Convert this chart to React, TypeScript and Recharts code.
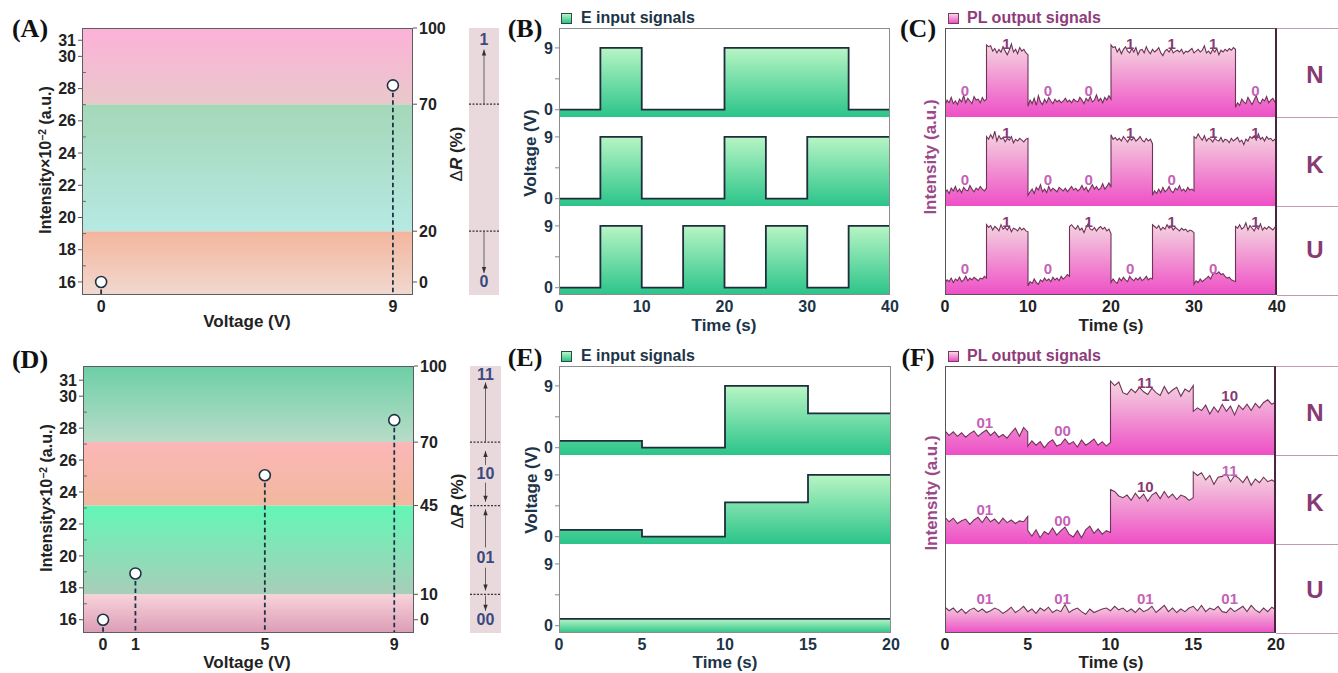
import React from "react";
import {
  ComposedChart,
  Area,
  Scatter,
  XAxis,
  YAxis,
  ReferenceArea,
  ReferenceLine,
} from "recharts";

// ---------- data ----------

// (A) single bit: intensity vs voltage
const A_VOLTAGES = [0, 9];
const A_INTENSITY = [16.0, 28.2];
const INTENSITY_TICKS = [16, 18, 20, 22, 24, 26, 28, 30, 31];
const INTENSITY_MINOR = [17, 19, 21, 23, 25, 27, 29];
const A_DR_TICKS = [0, 20, 70, 100];
const A_DR_THRESHOLDS = [20, 70];
const A_CODES = ["0", "1"];
const A_CODE_POS = [0, 95.5];
const A_ARROWS: [number, number][] = [
  [20, 3.5],
  [70, 91.5],
];

// (D) two bits
const D_VOLTAGES = [0, 1, 5, 9];
const D_INTENSITY = [16.0, 18.9, 25.05, 28.5];
const D_DR_TICKS = [0, 10, 45, 70, 100];
const D_DR_THRESHOLDS = [10, 45, 70];
const D_CODES = ["00", "01", "10", "11"];
const D_CODE_POS = [0, 24.5, 57.5, 96.5];
const D_ARROWS: [number, number][] = [
  [70, 93.5],
  [61, 66.5],
  [54, 46.5],
  [28.5, 43.5],
  [20.5, 11.5],
  [9.5, 3.5],
];

// (B) E input, 5 s per slot
const B_TIME_TICKS = [0, 10, 20, 30, 40];
const B_N = [0, 9, 0, 0, 9, 9, 9, 0];
const B_K = [0, 9, 0, 0, 9, 0, 9, 9];
const B_U = [0, 9, 0, 9, 0, 9, 0, 9];

// (E) E input, 5 s per slot
const E_TIME_TICKS = [0, 5, 10, 15, 20];
const E_N = [1, 0, 9, 5];
const E_K = [1, 0, 5, 9];
const E_U = [1, 1, 1, 1];
const VOLT_TICKS = [0, 4.5, 9];

// (C) PL output, runs of [start, end, samples]
type Run = [number, number, number[]];
const C_N_RUNS: Run[] = [
  [0, 5, [1.3, 1.9, 1.6, 2.2, 1.5, 1.8, 1.4, 2.0, 1.7, 2.4, 1.6, 2.1, 1.8, 1.5, 2.3, 1.9, 2.0, 1.6, 2.2, 1.8, 2.0]],
  [5, 10, [8.1, 7.9, 8.0, 7.4, 7.7, 7.2, 7.6, 7.3, 7.9, 7.4, 7.0, 7.5, 8.2, 7.3, 7.6, 7.1, 7.8, 7.4, 7.6, 7.2, 7.0]],
  [10, 20, [
    1.2, 1.9, 1.5, 2.1, 1.3, 2.4, 1.7, 1.4, 2.0, 1.6, 2.2, 1.8, 1.5, 2.0, 1.7, 1.9, 1.6, 1.8, 2.1, 1.7,
    1.9, 1.6, 2.0, 1.8, 1.7, 2.2, 1.9, 1.5, 2.1, 1.8, 2.3, 1.7, 1.9, 2.5, 1.8, 2.1, 1.6, 2.2, 1.9, 2.4, 2.0,
  ]],
  [20, 35, [
    8.1, 7.8, 7.9, 7.3, 7.7, 7.1, 7.6, 7.9, 7.4, 7.2, 7.7, 7.3, 7.8, 7.0, 7.5, 7.6, 7.2, 7.9, 7.4, 7.1,
    7.6, 7.3, 7.5, 7.8, 7.2, 6.9, 7.4, 7.6, 7.3, 7.7, 7.2, 7.4, 7.5, 7.3, 7.6, 7.1, 7.4, 7.3, 7.5, 7.7,
    7.2, 7.4, 7.6, 7.3, 7.5, 8.0, 7.2, 7.4, 7.1, 7.6, 7.3, 7.7, 7.0, 7.5, 7.3, 7.6, 7.4, 7.7, 7.5, 7.8, 7.6,
  ]],
  [35, 40, [1.1, 1.6, 1.3, 2.0, 1.7, 1.5, 2.2, 1.8, 1.4, 1.9, 2.4, 1.7, 1.5, 2.0, 1.8, 2.3, 1.6, 1.9, 2.1, 1.7, 1.4]],
];
const C_K_RUNS: Run[] = [
  [0, 5, [1.5, 1.8, 1.4, 2.0, 1.7, 2.2, 1.6, 1.9, 1.5, 2.1, 1.8, 1.7, 2.3, 1.9, 1.6, 2.0, 1.8, 2.2, 1.9, 1.7, 2.0]],
  [5, 10, [7.8, 7.5, 8.0, 7.6, 8.4, 7.3, 7.9, 7.5, 7.7, 7.2, 7.6, 7.4, 7.8, 7.1, 7.5, 7.3, 7.6, 7.4, 7.2, 7.5, 7.6]],
  [10, 20, [
    1.2, 1.6, 1.9, 1.4, 2.1, 1.8, 2.4, 1.6, 1.9, 1.5, 2.2, 1.7, 2.0, 1.8, 1.6, 2.1, 1.9, 1.7, 2.0, 1.6,
    1.9, 2.2, 1.8, 2.0, 1.7, 1.9, 2.3, 1.8, 2.1, 1.6, 2.0, 2.4, 1.9, 2.2, 1.8, 2.0, 2.5, 1.9, 2.2, 2.6, 2.1,
  ]],
  [20, 25, [8.0, 7.5, 7.7, 7.4, 7.6, 7.3, 7.8, 7.5, 7.2, 7.6, 7.4, 7.7, 7.3, 7.5, 7.8, 7.4, 7.2, 7.6, 7.3, 7.5, 7.0]],
  [25, 30, [1.2, 1.7, 1.4, 1.9, 1.5, 2.1, 1.6, 1.8, 2.2, 1.7, 1.5, 2.0, 1.8, 2.3, 1.7, 1.9, 1.6, 2.1, 1.8, 1.9, 1.7]],
  [30, 40, [
    7.8, 7.6, 8.1, 7.7, 7.4, 7.9, 7.3, 7.6, 7.5, 7.2, 7.6, 7.4, 7.3, 7.7, 7.2, 7.5, 7.4, 7.1, 7.6, 7.3,
    7.5, 7.7, 7.2, 7.4, 6.9, 7.5, 7.3, 7.8, 7.6, 7.9, 7.4, 8.1, 7.5, 7.7, 7.3, 7.8, 7.5, 7.6, 7.3, 7.5, 7.7,
  ]],
];
const C_U_RUNS: Run[] = [
  [0, 5, [1.3, 1.7, 1.5, 1.9, 1.4, 1.8, 1.6, 2.0, 1.5, 1.7, 2.1, 1.6, 1.9, 1.7, 2.0, 1.8, 1.6, 1.9, 1.8, 2.1, 1.9]],
  [5, 10, [7.9, 7.6, 7.8, 7.3, 7.7, 7.5, 7.2, 7.9, 7.4, 7.6, 7.3, 7.7, 7.1, 7.5, 7.4, 7.2, 7.6, 7.3, 7.5, 7.2, 7.1]],
  [10, 15, [1.0, 1.5, 1.3, 1.8, 1.4, 1.2, 1.7, 1.5, 1.9, 1.6, 1.8, 1.5, 2.0, 1.7, 1.9, 1.6, 2.1, 1.8, 2.0, 2.3, 2.1]],
  [15, 20, [7.7, 7.9, 7.6, 7.4, 7.8, 7.3, 7.5, 7.0, 7.6, 8.0, 7.4, 7.3, 7.6, 7.2, 7.5, 7.7, 7.4, 7.6, 7.2, 7.4, 6.9]],
  [20, 25, [1.4, 1.8, 1.5, 1.3, 1.9, 1.6, 2.0, 1.7, 1.5, 2.1, 1.8, 1.6, 1.9, 1.7, 2.0, 1.6, 1.8, 2.1, 1.7, 1.9, 1.8]],
  [25, 30, [7.9, 7.7, 7.5, 7.8, 7.3, 7.6, 7.4, 7.9, 7.5, 7.7, 7.3, 7.6, 7.4, 7.2, 7.5, 7.3, 7.4, 7.1, 7.3, 7.2, 7.0]],
  [30, 35, [1.2, 1.6, 1.4, 1.8, 1.5, 1.7, 1.9, 2.1, 1.8, 2.3, 2.5, 2.4, 2.6, 2.3, 2.4, 2.1, 1.9, 2.0, 1.7, 1.6, 1.5]],
  [35, 40, [7.7, 7.5, 7.9, 7.4, 7.6, 8.1, 7.3, 7.8, 7.5, 7.2, 7.7, 7.4, 8.0, 7.3, 7.6, 7.4, 7.7, 7.5, 7.3, 7.6, 7.4]],
];
const C_LABEL_T = [2.4, 7.4, 12.4, 17.3, 22.3, 27.3, 32.3, 37.4];
const C_LABEL_Y = { "0": 3.0, "1": 8.3 };

// (F) PL output
const F_N_RUNS: Run[] = [
  [0, 5, [2.7, 2.2, 2.6, 2.1, 2.5, 2.0, 2.4, 2.7, 2.1, 2.5, 2.8, 2.2, 2.6, 2.0, 2.3, 1.9, 2.5, 3.0, 2.1, 3.1, 2.6]],
  [5, 10, [1.0, 1.6, 1.1, 1.5, 0.8, 1.4, 1.7, 1.0, 1.2, 1.8, 1.2, 1.5, 0.9, 1.7, 1.1, 1.4, 1.8, 1.1, 1.5, 1.0, 1.4]],
  [10, 15, [8.3, 7.8, 8.2, 7.0, 6.8, 7.4, 7.0, 7.6, 7.1, 6.8, 7.5, 7.0, 6.7, 7.7, 6.9, 7.3, 7.6, 6.6, 7.4, 7.1, 7.8]],
  [15, 20, [4.9, 5.3, 5.0, 5.6, 4.6, 5.4, 4.8, 5.7, 4.9, 5.5, 4.5, 5.6, 5.1, 5.7, 5.0, 5.8, 5.3, 5.9, 6.2, 5.7, 6.0]],
];
const F_K_RUNS: Run[] = [
  [0, 5, [3.0, 2.5, 2.9, 2.3, 2.6, 2.8, 2.2, 2.7, 3.0, 2.4, 3.1, 2.5, 2.8, 2.3, 2.9, 2.4, 2.7, 2.3, 2.6, 2.5, 3.1]],
  [5, 10, [1.5, 0.9, 1.6, 0.7, 1.4, 1.1, 1.8, 1.0, 1.5, 1.9, 1.1, 0.8, 1.5, 0.7, 1.6, 2.0, 1.2, 1.7, 1.1, 1.5, 1.3]],
  [10, 15, [6.1, 5.9, 5.4, 5.2, 5.5, 4.9, 5.7, 5.1, 5.6, 4.8, 5.5, 5.8, 5.1, 5.9, 5.2, 5.6, 5.0, 5.5, 5.3, 4.9, 5.2]],
  [15, 20, [8.1, 7.7, 8.0, 7.2, 7.7, 6.7, 7.5, 7.6, 7.9, 7.0, 7.7, 7.4, 6.9, 7.6, 6.6, 7.3, 6.9, 7.5, 7.0, 7.2, 6.9]],
];
const F_U_RUNS: Run[] = [
  [0, 20, [
    2.9, 2.5, 2.8, 2.3, 2.7, 2.2, 2.6, 2.8, 2.4, 2.7,
    2.3, 2.5, 2.8, 2.6, 2.2, 2.5, 2.9, 2.3, 2.6, 3.0,
    2.4, 2.7, 2.2, 2.8, 2.5, 2.9, 2.3, 2.6, 2.4, 3.2,
    2.3, 2.6, 2.8, 2.4, 2.1, 2.7, 2.3, 2.5, 2.7, 2.8,
    2.5, 3.0, 2.6, 2.8, 2.4, 2.7, 2.3, 2.8, 2.4, 2.6,
    3.0, 2.3, 2.7, 3.1, 2.4, 2.8, 2.3, 2.7, 2.4, 2.8,
    3.0, 2.5, 3.1, 2.4, 2.8, 2.6, 3.0, 2.4, 2.3, 2.8,
    2.4, 2.7, 3.0, 2.4, 3.1, 2.6, 2.3, 2.8, 2.4, 2.9,
    2.6,
  ]],
];
const F_LABEL_T = [2.4, 7.1, 12.1, 17.2];
const F_N_LABEL_Y = [3.7, 2.8, 8.2, 6.7];
const F_K_LABEL_Y = [3.9, 2.6, 6.5, 8.3];
const F_U_LABEL_Y = [3.9, 3.9, 3.9, 3.9];
const F_N_DARK = [false, false, true, true];
const F_K_DARK = [false, false, true, false];
const F_U_DARK = [false, false, false, false];
const VOLT_CODE: Record<number, string> = { 0: "00", 1: "01", 5: "10", 9: "11" };

// ---------- styles ----------
const FONT = '"Liberation Sans", Arial, sans-serif';
const SERIF = '"Liberation Serif", "Times New Roman", serif';
const INK = "#222";
const NAVY = "#1c3448";
const PLUM = "#873a73";
const PLUM_LIGHT = "#c462b8";
const PL_STROKE = "#6e3358";
const STEP_FILL: [string, string] = ["#b7f5c4", "#2bc48a"];
const PL_FILL: [string, string] = ["#f4d6df", "#ee4fc6"];
const A_BAND_FILLS: [string, string][] = [
  ["#f3b59d", "#f1d9cf"],
  ["#a5d7b8", "#b6e9e3"],
  ["#fdb1d8", "#e9c8cb"],
];
const D_BAND_FILLS: [string, string][] = [
  ["#f8d3da", "#dc9cb6"],
  ["#62f7b6", "#a9cdb9"],
  ["#fcb7b7", "#f1b89e"],
  ["#6ccfa6", "#b9dcc9"],
];

const tickStyle = (fill: string) => ({
  fill,
  fontSize: 16,
  fontWeight: 700,
  fontFamily: FONT,
});

type Rect = { x: number; y: number; w: number; h: number };
type Row = { t: number; v: number };

const stepRows = (levels: number[], dt: number): Row[] => [
  ...levels.map((v, i) => ({ t: i * dt, v })),
  { t: levels.length * dt, v: levels[levels.length - 1] },
];

const runRows = (runs: Run[]): Row[] =>
  runs.flatMap(([t0, t1, vals]) =>
    vals.map((v, i) => ({ t: t0 + ((t1 - t0) * i) / (vals.length - 1), v }))
  );

const bitTags = (levels: number[]) =>
  levels.map((v, i) => {
    const bit = v > 0 ? "1" : "0";
    return {
      t: C_LABEL_T[i],
      y: C_LABEL_Y[bit],
      text: bit,
      color: bit === "1" ? PLUM : PLUM_LIGHT,
    };
  });

const codeTags = (levels: number[], ys: number[], dark: boolean[]) =>
  levels.map((v, i) => ({
    t: F_LABEL_T[i],
    y: ys[i],
    text: VOLT_CODE[v],
    color: dark[i] ? PLUM : PLUM_LIGHT,
  }));

// ---------- small pieces ----------
function Txt(props: {
  x: number;
  y: number;
  size?: number;
  color?: string;
  rotate?: number;
  family?: string;
  left?: boolean;
  children: React.ReactNode;
}) {
  const { x, y, size = 17, color = INK, rotate = 0, family = FONT, left } = props;
  return (
    <div
      style={{
        position: "absolute",
        left: x,
        top: y,
        transform: `translate(${left ? "0" : "-50%"}, -50%) rotate(${rotate}deg)`,
        whiteSpace: "nowrap",
        fontSize: size,
        fontWeight: 700,
        fontFamily: family,
        color,
        lineHeight: 1.1,
      }}
    >
      {props.children}
    </div>
  );
}

function Frame({ r, color, width = 1, right }: { r: Rect; color: string; width?: number; right?: string }) {
  return (
    <div
      style={{
        position: "absolute",
        left: r.x,
        top: r.y,
        width: r.w,
        height: r.h,
        boxSizing: "border-box",
        border: `${width}px solid ${color}`,
        borderRight: right ?? `${width}px solid ${color}`,
        pointerEvents: "none",
      }}
    />
  );
}

function Swatch({ x, y, fill, border }: { x: number; y: number; fill: [string, string]; border: string }) {
  return (
    <div
      style={{
        position: "absolute",
        left: x,
        top: y,
        width: 11,
        height: 11,
        boxSizing: "border-box",
        border: `1px solid ${border}`,
        background: `linear-gradient(${fill[0]}, ${fill[1]})`,
      }}
    />
  );
}

const Pin = (props: any) => {
  const { cx, cy, bottom } = props;
  if (cx == null || cy == null) return null;
  return (
    <g>
      <line x1={cx} x2={cx} y1={cy} y2={bottom} stroke="#1e3444" strokeWidth={1.8} strokeDasharray="4.5 3" />
      <circle cx={cx} cy={cy} r={5.5} fill="#fff" stroke="#1e3444" strokeWidth={1.6} />
    </g>
  );
};

const Tag = (props: any) => {
  const { cx, cy, payload } = props;
  if (cx == null || cy == null) return null;
  return (
    <text x={cx} y={cy} textAnchor="middle" dominantBaseline="central" fontSize={15} fontWeight={700} fontFamily={FONT} fill={payload.color}>
      {payload.text}
    </text>
  );
};

const Head = (props: any) => {
  const { cx, cy, payload } = props;
  if (cx == null || cy == null) return null;
  const d = payload.up ? 1 : -1;
  return <path d={`M${cx},${cy} L${cx - 2.2},${cy + 6 * d} L${cx + 2.2},${cy + 6 * d} Z`} fill="#333" />;
};

const CodeText = (props: any) => {
  const { cx, cy, payload } = props;
  if (cx == null || cy == null) return null;
  return (
    <text x={cx} y={cy} textAnchor="middle" dominantBaseline="central" fontSize={16} fontWeight={700} fontFamily={FONT} fill="#3b4a7e">
      {payload.text}
    </text>
  );
};

// ---------- intensity panels (A, D) ----------
const IL = 50,
  IR = 44,
  IT = 12,
  IX = 30;

function IntensityPanel(p: {
  id: string;
  plot: Rect;
  volts: number[];
  intensity: number[];
  xDomain: [number, number];
  yDomain: [number, number];
  rDomain: [number, number];
  rTicks: number[];
  thresholds: number[];
  fills: [string, string][];
}) {
  const W = IL + p.plot.w + IR;
  const H = IT + p.plot.h + IX;
  const edges = [p.rDomain[0], ...p.thresholds, p.rDomain[1]];
  const pts = p.volts.map((x, i) => ({ x, y: p.intensity[i] }));
  const bottom = IT + p.plot.h;
  return (
    <div style={{ position: "absolute", left: p.plot.x - IL, top: p.plot.y - IT }}>
      <ComposedChart width={W} height={H} margin={{ top: IT, right: 0, bottom: 0, left: 0 }}>
        <defs>
          {p.fills.map(([a, b], i) => (
            <linearGradient key={i} id={`${p.id}${i}`} x1="0" y1="0" x2="0" y2="1">
              <stop offset="0%" stopColor={a} />
              <stop offset="100%" stopColor={b} />
            </linearGradient>
          ))}
        </defs>
        <XAxis
          type="number"
          dataKey="x"
          domain={p.xDomain}
          ticks={p.volts}
          allowDataOverflow
          interval={0}
          axisLine={false}
          tickLine={false}
          tickSize={4}
          height={IX}
          tick={tickStyle(INK)}
        />
        <YAxis
          yAxisId="l"
          type="number"
          domain={p.yDomain}
          ticks={INTENSITY_TICKS}
          allowDataOverflow
          interval={0}
          width={IL}
          axisLine={false}
          tickSize={4}
          tickLine={{ stroke: "#555" }}
          tick={tickStyle(INK)}
        />
        <YAxis
          yAxisId="r"
          orientation="right"
          type="number"
          domain={p.rDomain}
          ticks={p.rTicks}
          allowDataOverflow
          interval={0}
          width={IR}
          axisLine={false}
          tickSize={4}
          tickLine={{ stroke: "#555" }}
          tick={tickStyle(INK)}
        />
        {edges.slice(0, -1).map((e, i) => (
          <ReferenceArea
            key={i}
            yAxisId="r"
            y1={e}
            y2={edges[i + 1]}
            fill={`url(#${p.id}${i})`}
            fillOpacity={1}
            stroke="none"
            ifOverflow="visible"
          />
        ))}
        {INTENSITY_MINOR.map((m) => (
          <ReferenceLine
            key={`m${m}`}
            yAxisId="l"
            segment={[
              { x: p.xDomain[0], y: m },
              { x: p.xDomain[0] + 0.12, y: m },
            ]}
            stroke="#666"
            strokeWidth={1}
            ifOverflow="visible"
          />
        ))}
        <Scatter
          yAxisId="l"
          data={pts}
          dataKey="y"
          isAnimationActive={false}
          shape={(s: any) => <Pin {...s} bottom={bottom} />}
        />
      </ComposedChart>
    </div>
  );
}

function CodeBar(p: {
  plot: Rect;
  domain: [number, number];
  thresholds: number[];
  codes: string[];
  codePos: number[];
  arrows: [number, number][];
}) {
  const heads = p.arrows.map(([a, b]) => ({ x: 0.5, y: b, up: b > a }));
  const tags = p.codes.map((c, i) => ({ x: 0.5, y: p.codePos[i], text: c }));
  return (
    <div style={{ position: "absolute", left: p.plot.x, top: p.plot.y }}>
      <ComposedChart width={p.plot.w} height={p.plot.h} margin={{ top: 0, right: 0, bottom: 0, left: 0 }}>
        <XAxis type="number" dataKey="x" domain={[0, 1]} hide />
        <YAxis type="number" domain={p.domain} allowDataOverflow hide />
        <ReferenceArea y1={p.domain[0]} y2={p.domain[1]} fill="#e9d9dc" fillOpacity={1} stroke="none" ifOverflow="visible" />
        {p.thresholds.map((t) => (
          <ReferenceLine key={t} y={t} stroke="#333" strokeDasharray="2 1.5" strokeWidth={1.3} ifOverflow="visible" />
        ))}
        {p.arrows.map(([a, b], i) => (
          <ReferenceLine
            key={`s${i}`}
            segment={[
              { x: 0.5, y: a },
              { x: 0.5, y: b },
            ]}
            stroke="#555"
            strokeWidth={0.9}
            ifOverflow="visible"
          />
        ))}
        <Scatter data={heads} dataKey="y" shape={Head} isAnimationActive={false} />
        <Scatter data={tags} dataKey="y" shape={CodeText} isAnimationActive={false} />
      </ComposedChart>
    </div>
  );
}

// ---------- signal strips (B, C, E, F) ----------
const LW = 40,
  RP = 20,
  TP = 12,
  XH = 30;

function Strip(p: {
  id: string;
  plot: Rect;
  rows: Row[];
  yDomain: [number, number];
  volts?: boolean;
  xDomain: [number, number];
  xTicks?: number[];
  curve: "stepAfter" | "linear";
  fill: [string, string];
  stroke: string;
  strokeWidth: number;
  tickColor: string;
  tags?: { t: number; y: number; text: string; color: string }[];
}) {
  const W = LW + p.plot.w + RP;
  const H = TP + p.plot.h + (p.xTicks ? XH : 0);
  return (
    <div style={{ position: "absolute", left: p.plot.x - LW, top: p.plot.y - TP }}>
      <ComposedChart width={W} height={H} data={p.rows} margin={{ top: TP, right: RP, bottom: 0, left: 0 }}>
        <defs>
          <linearGradient id={p.id} x1="0" y1="0" x2="0" y2="1">
            <stop offset="0%" stopColor={p.fill[0]} />
            <stop offset="100%" stopColor={p.fill[1]} />
          </linearGradient>
        </defs>
        <XAxis
          type="number"
          dataKey="t"
          domain={p.xDomain}
          ticks={p.xTicks ?? []}
          hide={!p.xTicks}
          allowDataOverflow
          interval={0}
          height={XH}
          axisLine={false}
          tickLine={false}
          tickSize={4}
          tick={tickStyle(p.tickColor)}
        />
        <YAxis
          type="number"
          domain={p.yDomain}
          allowDataOverflow
          width={LW}
          axisLine={false}
          interval={0}
          ticks={p.volts ? VOLT_TICKS : []}
          tickFormatter={(v: number) => (v === 4.5 ? "" : String(v))}
          tick={p.volts ? tickStyle(p.tickColor) : false}
          tickLine={p.volts ? { stroke: "#888" } : false}
          tickSize={4}
        />
        <Area
          type={p.curve}
          dataKey="v"
          baseValue={p.yDomain[0]}
          fill={`url(#${p.id})`}
          fillOpacity={1}
          stroke={p.stroke}
          strokeWidth={p.strokeWidth}
          dot={false}
          activeDot={false}
          isAnimationActive={false}
        />
        {p.tags && <Scatter data={p.tags} dataKey="y" shape={Tag} isAnimationActive={false} />}
      </ComposedChart>
    </div>
  );
}

const STEP_DOMAIN: [number, number] = [-1.06, 11.9];
const PL_DOMAIN: [number, number] = [0, 10];

function StepStack({ idp, plot, traces, xDomain, xTicks }: { idp: string; plot: Rect; traces: Row[][]; xDomain: [number, number]; xTicks: number[] }) {
  const sh = plot.h / traces.length;
  return (
    <>
      {traces.map((rows, i) => (
        <Strip
          key={i}
          id={`${idp}${i}`}
          plot={{ x: plot.x, y: plot.y + i * sh, w: plot.w, h: sh }}
          rows={rows}
          yDomain={STEP_DOMAIN}
          volts
          xDomain={xDomain}
          xTicks={i === traces.length - 1 ? xTicks : undefined}
          curve="stepAfter"
          fill={STEP_FILL}
          stroke="#1e2e3c"
          strokeWidth={1.8}
          tickColor={NAVY}
        />
      ))}
      <Frame r={plot} color="#8c8c8c" />
    </>
  );
}

function PlStack({
  idp,
  plot,
  traces,
  tags,
  xDomain,
  xTicks,
  names,
  nameY,
}: {
  idp: string;
  plot: Rect;
  traces: Row[][];
  tags: { t: number; y: number; text: string; color: string }[][];
  xDomain: [number, number];
  xTicks: number[];
  names: string[];
  nameY: number[];
}) {
  const sh = plot.h / traces.length;
  const right = plot.x + plot.w;
  return (
    <>
      {traces.map((rows, i) => (
        <Strip
          key={i}
          id={`${idp}${i}`}
          plot={{ x: plot.x, y: plot.y + i * sh, w: plot.w, h: sh }}
          rows={rows}
          yDomain={PL_DOMAIN}
          xDomain={xDomain}
          xTicks={i === traces.length - 1 ? xTicks : undefined}
          curve="linear"
          fill={PL_FILL}
          stroke={PL_STROKE}
          strokeWidth={1.1}
          tickColor={INK}
          tags={tags[i]}
        />
      ))}
      <Frame r={plot} color="#555" right="2px solid #4a2540" />
      {[0, 1, 2, 3].map((i) => (
        <div
          key={i}
          style={{
            position: "absolute",
            left: right,
            top: plot.y + i * sh - 0.5,
            width: 1338 - right,
            height: 1,
            background: "#c29ab5",
          }}
        />
      ))}
      {names.map((n, i) => (
        <Txt key={n} x={1315} y={nameY[i]} size={24} color={PLUM}>
          {n}
        </Txt>
      ))}
    </>
  );
}

export default function App() {
  const plotA: Rect = { x: 82, y: 28, w: 331, h: 267 };
  const plotD: Rect = { x: 83, y: 366, w: 331, h: 267 };
  const plotB: Rect = { x: 559, y: 28, w: 331, h: 267 };
  const plotE: Rect = { x: 559, y: 366, w: 332, h: 267 };
  const plotC: Rect = { x: 945, y: 28, w: 332, h: 267 };
  const plotF: Rect = { x: 945, y: 366, w: 331, h: 267 };

  const intensityLabel = (
    <>
      Intensity×10
      <span style={{ fontSize: "0.65em", position: "relative", top: "-0.5em" }}>−2</span> (a.u.)
    </>
  );
  const drLabel = (
    <>
      <span style={{ fontWeight: 400 }}>Δ</span>
      <i>R</i> (%)
    </>
  );

  return (
    <div
      style={{
        position: "absolute",
        left: 0,
        top: 0,
        width: 1338,
        height: 673,
        background: "#fff",
        overflow: "hidden",
        fontFamily: FONT,
      }}
    >
      {/* (A) */}
      <IntensityPanel
        id="ga"
        plot={plotA}
        volts={A_VOLTAGES}
        intensity={A_INTENSITY}
        xDomain={[-0.59, 9.62]}
        yDomain={[15.19, 31.76]}
        rDomain={[-5.12, 100]}
        rTicks={A_DR_TICKS}
        thresholds={A_DR_THRESHOLDS}
        fills={A_BAND_FILLS}
      />
      <Frame r={plotA} color="#5d5d5d" width={1.5} />
      <CodeBar
        plot={{ x: 469, y: 28, w: 30, h: 267 }}
        domain={[-5.12, 100]}
        thresholds={A_DR_THRESHOLDS}
        codes={A_CODES}
        codePos={A_CODE_POS}
        arrows={A_ARROWS}
      />
      <Txt x={30} y={29} size={26} family={SERIF} color="#111">(A)</Txt>
      <Txt x={46} y={160} size={16} rotate={-90}>{intensityLabel}</Txt>
      <Txt x={247} y={322}>Voltage (V)</Txt>
      <Txt x={457} y={154} rotate={-90}>{drLabel}</Txt>

      {/* (B) */}
      <StepStack
        idp="gb"
        plot={plotB}
        traces={[stepRows(B_N, 5), stepRows(B_K, 5), stepRows(B_U, 5)]}
        xDomain={[0, 40]}
        xTicks={B_TIME_TICKS}
      />
      <Txt x={525} y={29} size={26} family={SERIF} color="#111">(B)</Txt>
      <Swatch x={561} y={13} fill={STEP_FILL} border="#2d4a3e" />
      <Txt x={581} y={18} size={16} color={NAVY} left>E input signals</Txt>
      <Txt x={531} y={153} rotate={-90} color={NAVY}>Voltage (V)</Txt>
      <Txt x={724} y={326} color={NAVY}>Time (s)</Txt>

      {/* (C) */}
      <PlStack
        idp="gc"
        plot={plotC}
        traces={[runRows(C_N_RUNS), runRows(C_K_RUNS), runRows(C_U_RUNS)]}
        tags={[bitTags(B_N), bitTags(B_K), bitTags(B_U)]}
        xDomain={[0, 40]}
        xTicks={B_TIME_TICKS}
        names={["N", "K", "U"]}
        nameY={[75, 165, 250]}
      />
      <Txt x={918} y={29} size={26} family={SERIF} color="#111">(C)</Txt>
      <Swatch x={948} y={13} fill={PL_FILL} border="#7a3a68" />
      <Txt x={967} y={18} size={16} color="#8e3c7a" left>PL output signals</Txt>
      <Txt x={931} y={157} rotate={-90} color="#9a4a8a">Intensity (a.u.)</Txt>
      <Txt x={1111} y={326}>Time (s)</Txt>

      {/* (D) */}
      <IntensityPanel
        id="gd"
        plot={plotD}
        volts={D_VOLTAGES}
        intensity={D_INTENSITY}
        xDomain={[-0.62, 9.61]}
        yDomain={[15.17, 31.89]}
        rDomain={[-5.23, 100]}
        rTicks={D_DR_TICKS}
        thresholds={D_DR_THRESHOLDS}
        fills={D_BAND_FILLS}
      />
      <Frame r={plotD} color="#5d5d5d" width={1.5} />
      <CodeBar
        plot={{ x: 470, y: 366, w: 31, h: 267 }}
        domain={[-5.23, 100]}
        thresholds={D_DR_THRESHOLDS}
        codes={D_CODES}
        codePos={D_CODE_POS}
        arrows={D_ARROWS}
      />
      <Txt x={30} y={360} size={26} family={SERIF} color="#111">(D)</Txt>
      <Txt x={47} y={498} size={16} rotate={-90}>{intensityLabel}</Txt>
      <Txt x={247} y={663}>Voltage (V)</Txt>
      <Txt x={458} y={501} rotate={-90}>{drLabel}</Txt>

      {/* (E) */}
      <StepStack
        idp="ge"
        plot={plotE}
        traces={[stepRows(E_N, 5), stepRows(E_K, 5), stepRows(E_U, 5)]}
        xDomain={[0, 20]}
        xTicks={E_TIME_TICKS}
      />
      <Txt x={525} y={358} size={26} family={SERIF} color="#111">(E)</Txt>
      <Swatch x={561} y={351} fill={STEP_FILL} border="#2d4a3e" />
      <Txt x={581} y={356} size={16} color={NAVY} left>E input signals</Txt>
      <Txt x={532} y={490} rotate={-90} color={NAVY}>Voltage (V)</Txt>
      <Txt x={725} y={663} color={NAVY}>Time (s)</Txt>

      {/* (F) */}
      <PlStack
        idp="gf"
        plot={plotF}
        traces={[runRows(F_N_RUNS), runRows(F_K_RUNS), runRows(F_U_RUNS)]}
        tags={[
          codeTags(E_N, F_N_LABEL_Y, F_N_DARK),
          codeTags(E_K, F_K_LABEL_Y, F_K_DARK),
          codeTags(E_U, F_U_LABEL_Y, F_U_DARK),
        ]}
        xDomain={[0, 20]}
        xTicks={E_TIME_TICKS}
        names={["N", "K", "U"]}
        nameY={[413, 503, 590]}
      />
      <Txt x={918} y={358} size={26} family={SERIF} color="#111">(F)</Txt>
      <Swatch x={948} y={351} fill={PL_FILL} border="#7a3a68" />
      <Txt x={967} y={356} size={16} color="#8e3c7a" left>PL output signals</Txt>
      <Txt x={932} y={493} rotate={-90} color="#9a4a8a">Intensity (a.u.)</Txt>
      <Txt x={1111} y={663}>Time (s)</Txt>
    </div>
  );
}
